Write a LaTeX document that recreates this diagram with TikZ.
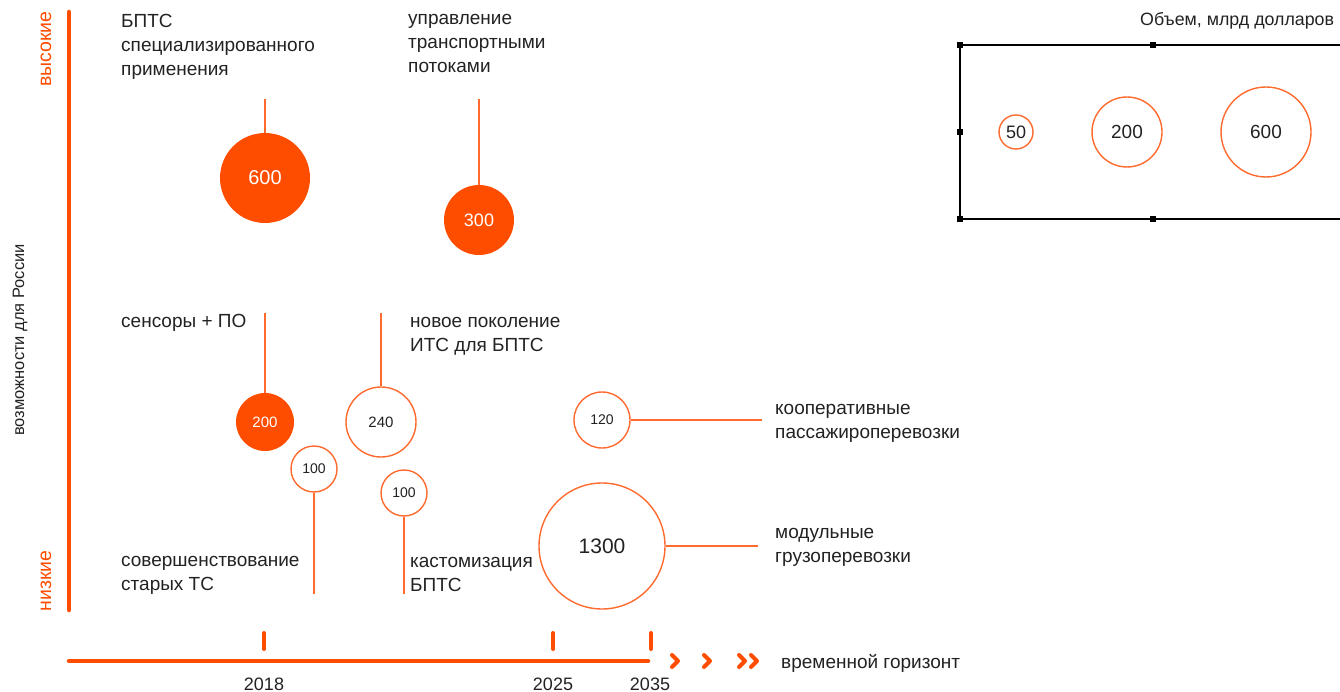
\documentclass[tikz,border=0pt]{standalone}
\usepackage{fontspec}
\setmainfont{Liberation Sans}
\definecolor{orng}{HTML}{FF4D00}
\definecolor{lorng}{HTML}{FF6A2E}
\definecolor{txt}{HTML}{222222}
\begin{document}
\begin{tikzpicture}[x=1pt,y=-1pt,
  lbl/.style={anchor=west,align=left,text=txt,font=\fontsize{19}{24}\selectfont,inner sep=0pt},
  fbub/.style={circle,fill=orng,text=white,inner sep=0pt},
  obub/.style={circle,draw=lorng,line width=1.4pt,fill=white,text=txt,inner sep=0pt},
  conn/.style={draw=lorng,line width=1.2pt},
  axis/.style={draw=orng,line width=4.5pt,line cap=round},
  tick/.style={draw=orng,line width=4pt,line cap=round},
  chev/.style={draw=orng,line width=4pt,line cap=round,line join=round},
  hnd/.style={fill=black,minimum size=6pt,inner sep=0pt}]
\useasboundingbox (0,0) rectangle (1340,692);
% axes
\coordinate (ytop) at (69,12);
\coordinate (ybot) at (69,610);
\draw[axis] (ytop) -- (ybot);
\coordinate (xl) at (69,661);
\coordinate (xr) at (648,661);
\draw[axis] (xl) -- (xr);
\node[rotate=90,text=orng,font=\fontsize{19.5}{22}\selectfont] (hi) at (46,49) {высокие};
\node[rotate=90,text=orng,font=\fontsize{19.5}{22}\selectfont] (lo) at (46,581) {низкие};
\node[rotate=90,text=txt,font=\fontsize{16.5}{20}\selectfont] (ylab) at (20,340) {возможности для России};
% ticks
\foreach \n/\x in {t18/264,t25/553,t35/651}{
  \coordinate (\n a) at (\x,633);
  \coordinate (\n b) at (\x,649);
  \draw[tick] (\n a) -- (\n b);
}
\node[text=txt,font=\fontsize{18}{22}\selectfont] (y18) at (264,684) {2018};
\node[text=txt,font=\fontsize{18}{22}\selectfont] (y25) at (553,684) {2025};
\node[text=txt,font=\fontsize{18}{22}\selectfont] (y35) at (650,684) {2035};
% chevrons
\draw[chev] (672,655) -- (678,661) -- (672,667);
\draw[chev] (704,655) -- (710,661) -- (704,667);
\draw[chev] (739,655) -- (745,661) -- (739,667);
\draw[chev] (751,655) -- (757,661) -- (751,667);
\node[lbl] (hor) at (781,663) {временной горизонт};
% bubbles
\node[fbub,minimum size=90pt,font=\fontsize{20}{24}\selectfont] (b600) at (265,178) {600};
\node[fbub,minimum size=70pt,font=\fontsize{18}{22}\selectfont] (b300) at (479,220) {300};
\node[fbub,minimum size=58pt,font=\fontsize{15}{18}\selectfont] (b200) at (265,422) {200};
\node[obub,minimum size=70pt,font=\fontsize{15}{18}\selectfont] (b240) at (381,422) {240};
\node[obub,minimum size=46pt,font=\fontsize{14}{17}\selectfont] (b100a) at (314,469) {100};
\node[obub,minimum size=46pt,font=\fontsize{14}{17}\selectfont] (b100b) at (404,493) {100};
\node[obub,minimum size=56pt,font=\fontsize{14}{17}\selectfont] (b120) at (602,420) {120};
\node[obub,minimum size=126pt,font=\fontsize{21}{24}\selectfont] (b1300) at (602,546) {1300};
% labels
\node[lbl,anchor=north west] (l600) at (121,14) {БПТС\\специализированного\\применения};
\node[lbl,anchor=north west] (l300) at (408,14) {управление\\транспортными\\потоками};
\node[lbl] (l200) at (121,323) {сенсоры + ПО};
\node[lbl,anchor=north west] (l240) at (410,317) {новое поколение\\ИТС для БПТС};
\node[lbl,anchor=north west] (l100a) at (121,556) {совершенствование\\старых ТС};
\node[lbl,anchor=north west] (l100b) at (410,557) {кастомизация\\БПТС};
\node[lbl,anchor=north west] (l120) at (775,404) {кооперативные\\пассажироперевозки};
\node[lbl,anchor=north west] (l1300) at (775,528) {модульные\\грузоперевозки};
% connectors
\coordinate (c600) at (265,99);
\coordinate (c300) at (479,99);
\coordinate (c200) at (265,313);
\coordinate (c240) at (381,313);
\coordinate (c100a) at (314,594);
\coordinate (c100b) at (404,594);
\coordinate (c120) at (762,420);
\coordinate (c1300) at (758,546);
\draw[conn] (c600) -- (b600.north);
\draw[conn] (c300) -- (b300.north);
\draw[conn] (c200) -- (b200.north);
\draw[conn] (c240) -- (b240.north);
\draw[conn] (b100a.south) -- (c100a);
\draw[conn] (b100b.south) -- (c100b);
\draw[conn] (b120.east) -- (c120);
\draw[conn] (b1300.east) -- (c1300);
% legend
\node[text=txt,font=\fontsize{17.8}{22}\selectfont,anchor=west,inner sep=0pt] (leg) at (1140,21) {Объем, млрд долларов};
\coordinate (r1) at (960,45);
\coordinate (r2) at (1345,45);
\coordinate (r3) at (1345,219);
\coordinate (r4) at (960,219);
\draw[black,line width=1.4pt] (r2) -- (r1) -- (r4) -- (r3);
\foreach \p in {(960,45),(1153,45),(960,132),(960,219),(1153,219)}{
  \node[hnd] at \p {};
}
\node[obub,minimum size=34pt,font=\fontsize{18}{20}\selectfont] (g50) at (1016,132) {50};
\node[obub,minimum size=70pt,font=\fontsize{19}{20}\selectfont] (g200) at (1127,132) {200};
\node[obub,minimum size=90pt,font=\fontsize{19}{20}\selectfont] (g600) at (1266,132) {600};
\end{tikzpicture}
\end{document}
